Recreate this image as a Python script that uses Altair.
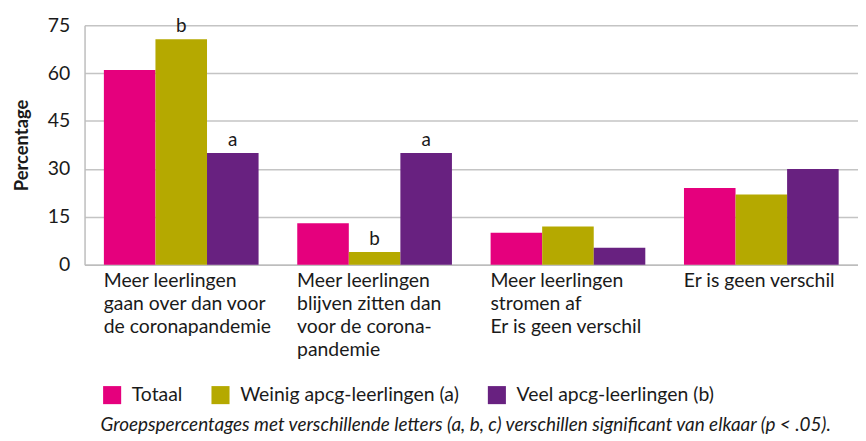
import altair as alt
import pandas as pd

categories = [
    "Meer leerlingen|gaan over dan voor|de coronapandemie",
    "Meer leerlingen|blijven zitten dan|voor de corona-|pandemie",
    "Meer leerlingen|stromen af|Er is geen verschil",
    "Er is geen verschil",
]
series = ["Totaal", "Weinig apcg-leerlingen (a)", "Veel apcg-leerlingen (b)"]
totaal = [61, 13, 10, 24]
weinig = [70.6, 4, 12, 22]
veel = [35, 35, 5.3, 30]
letters_totaal = ["", "", "", ""]
letters_weinig = ["b", "b", "", ""]
letters_veel = ["a", "a", "", ""]
colors = ["#e5007d", "#b5a900", "#682180"]
y_ticks = [0, 15, 30, 45, 60, 75]
caption = "Groepspercentages met verschillende letters (a, b, c) verschillen significant van elkaar (p < .05)."

rows = []
for s, vals, lets in zip(series, [totaal, weinig, veel], [letters_totaal, letters_weinig, letters_veel]):
    for c, v, l in zip(categories, vals, lets):
        rows.append({"cat": c, "series": s, "value": v, "letter": l})
df = pd.DataFrame(rows)

FONT = "Lato"
TXT = "#1a1a1a"
W = 778

base = alt.Chart(df).encode(
    x=alt.X(
        "cat:N",
        sort=categories,
        scale=alt.Scale(paddingInner=0.2, paddingOuter=0.1),
        axis=alt.Axis(
            title=None,
            labelExpr="split(datum.label, '|')",
            labelAngle=0,
            labelAlign="left",
            labelBaseline="top",
            labelOffset=-78,
            labelFontSize=19.5,
            labelLineHeight=23,
            labelPadding=7,
            labelLimit=0,
            labelColor=TXT,
            labelFont=FONT,
            ticks=False,
            domainColor="#bdbdbd",
            domainWidth=1.5,
        ),
    ),
    xOffset=alt.XOffset("series:N", sort=series),
    y=alt.Y(
        "value:Q",
        scale=alt.Scale(domain=[0, 75], nice=False),
        axis=alt.Axis(
            title="Percentage",
            values=y_ticks,
            titleFont=FONT,
            titleFontSize=18.5,
            titleFontWeight="bold",
            titleColor=TXT,
            titlePadding=16,
            labelFont=FONT,
            labelFontSize=19.5,
            labelColor=TXT,
            labelPadding=15,
            ticks=False,
            domainColor="#bdbdbd",
            domainWidth=1.5,
            gridColor="#c4c4c4",
            gridWidth=1.5,
        ),
    ),
)

bars = base.mark_bar().encode(
    color=alt.Color(
        "series:N",
        sort=series,
        scale=alt.Scale(domain=series, range=colors),
        legend=alt.Legend(
            title=None,
            orient="none",
            direction="horizontal",
            legendX=18,
            legendY=362,
            symbolType="square",
            symbolSize=330,
            symbolStrokeWidth=0,
            symbolOpacity=1,
            labelFont=FONT,
            labelFontSize=19.5,
            labelColor=TXT,
            labelLimit=0,
            labelOffset=10,
            columnPadding=28,
        ),
    )
)

labels = base.mark_text(baseline="bottom", dy=-3, fontSize=19, font=FONT, color=TXT).encode(
    text="letter:N"
)

chart = (
    alt.layer(bars, labels)
    .properties(
        width=W,
        height=241,
        autosize=alt.AutoSizeParams(type="none"),
        padding={"left": 77, "top": 16, "right": 0, "bottom": 176},
        title=alt.TitleParams(
            caption,
            orient="bottom",
            anchor="start",
            frame="group",
            dx=16,
            offset=11,
            font=FONT,
            fontSize=19,
            fontStyle="italic",
            fontWeight="normal",
            color=TXT,
        ),
    )
    .configure_view(stroke=None)
)

chart.save("out.html", embed_options={"renderer": "svg", "actions": False})
